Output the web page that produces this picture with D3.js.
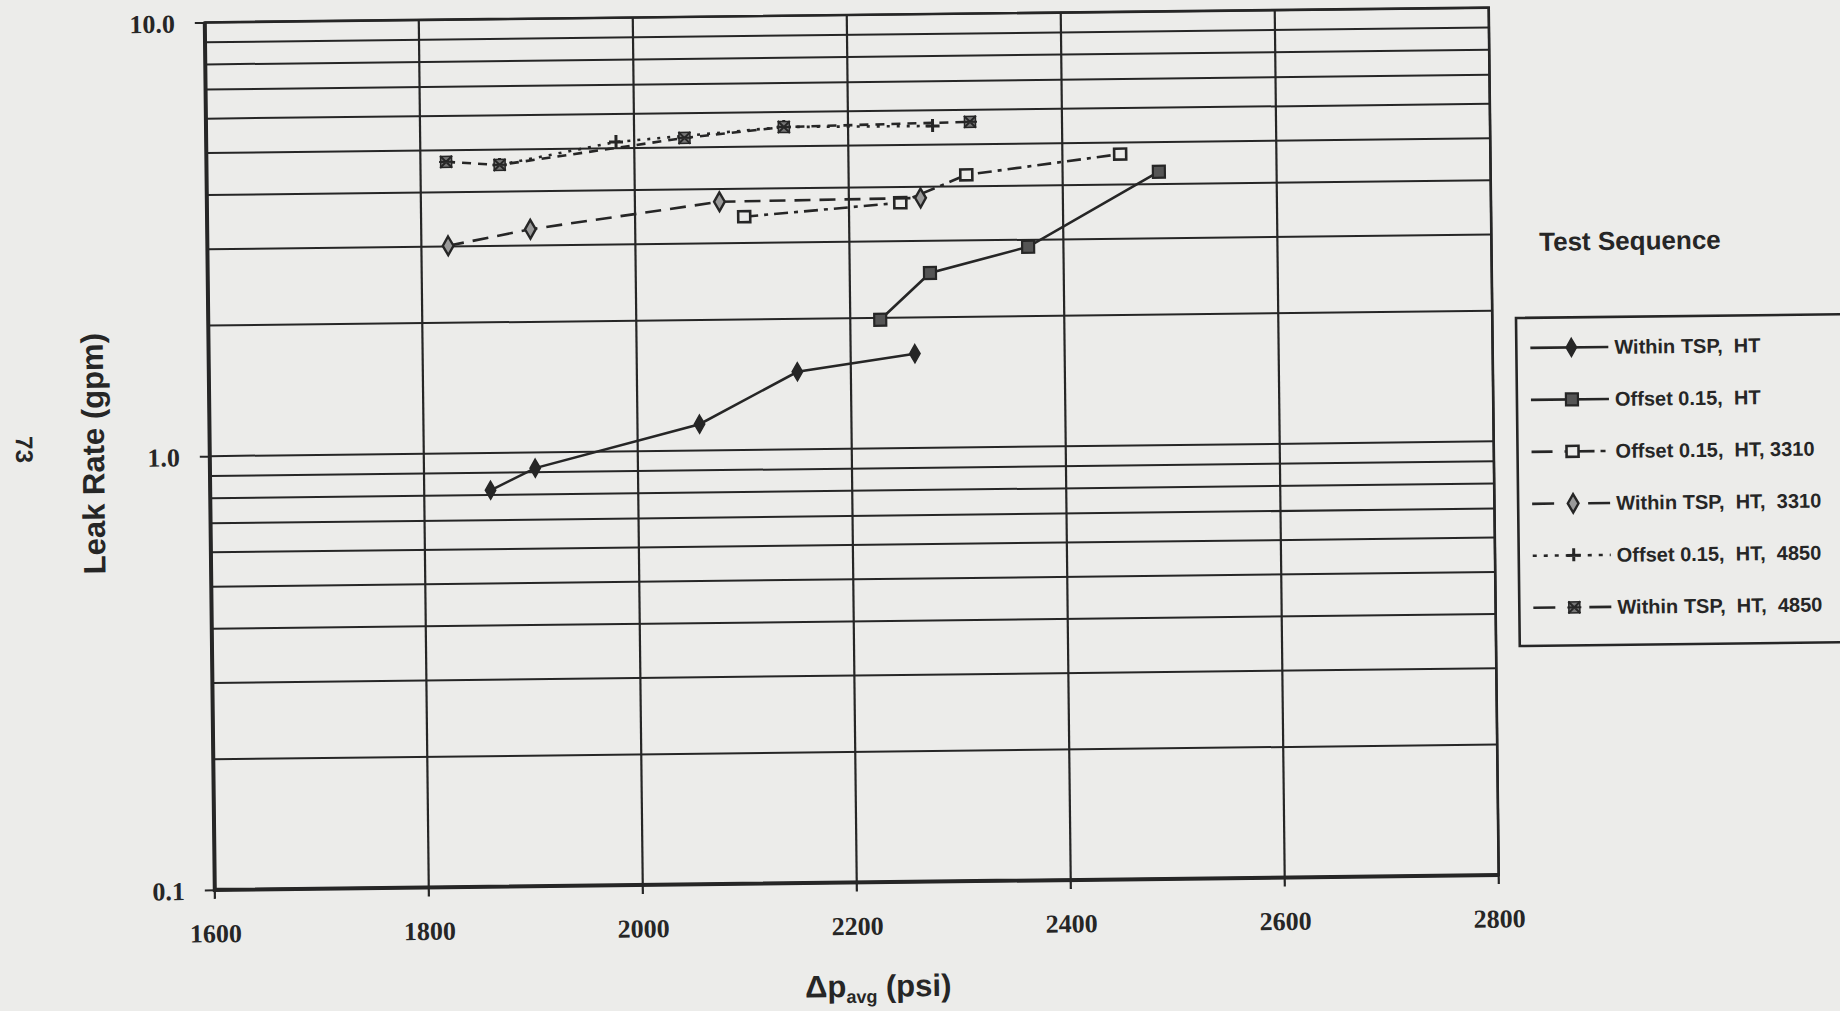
<!DOCTYPE html>
<html>
<head>
<meta charset="utf-8">
<script src="https://cdn.jsdelivr.net/npm/d3@7"></script>
<style>
    html, body { margin: 0; padding: 0; background: #ececea; }
    svg { display: block; }
</style>
</head>
<body>
<div id="chart"></div>
<script>
// axis ticks
const xTicks = [1600, 1800, 2000, 2200, 2400, 2600, 2800];
const yTickValues = [0.1, 1, 10];
const yTickLabels = ["0.1", "1.0", "10.0"];

// series values (dp avg in psi, leak rate in gpm)
const withinHT_x = [1862, 1904, 2058, 2150, 2260];
const withinHT_y = [0.82, 0.92, 1.15, 1.51, 1.65];

const offsetHT_x = [2228, 2275, 2367, 2490];
const offsetHT_y = [1.98, 2.53, 2.89, 4.27];

const offset3310_x = [2102, 2248, 2310, 2454];
const offset3310_y = [3.45, 3.68, 4.25, 4.70];

const within3310_x = [1825, 1902, 2079, 2267];
const within3310_y = [3.01, 3.27, 3.74, 3.77];

const offset4850_x = [1874, 1983, 2140, 2279];
const offset4850_y = [4.61, 5.17, 5.54, 5.52];

const within4850_x = [1824, 1874, 2047, 2140, 2314];
const within4850_y = [4.70, 4.61, 5.26, 5.54, 5.63];

const seriesNames = [
    "Within TSP,  HT",
    "Offset 0.15,  HT",
    "Offset 0.15,  HT, 3310",
    "Within TSP,  HT,  3310",
    "Offset 0.15,  HT,  4850",
    "Within TSP,  HT,  4850"
];

const width = 1840, height = 1011;
const bg = "#ececea";
const ink = "#262626";
const plot = {left: 209.75, right: 1493.75, top: 15, bottom: 882.5};
const tilt = -0.66; // the scanned page sits a little crooked

const series = [
    {name: seriesNames[0], xs: withinHT_x, ys: withinHT_y, dash: null, legendDash: null, marker: "diamondFilled"},
    {name: seriesNames[1], xs: offsetHT_x, ys: offsetHT_y, dash: null, legendDash: null, marker: "squareFilled"},
    {name: seriesNames[2], xs: offset3310_x, ys: offset3310_y, dash: "14,6,4,6", legendDash: "21,12,30,6,5,6,4", marker: "squareOpen"},
    {name: seriesNames[3], xs: within3310_x, ys: within3310_y, dash: "16,9", legendDash: "22,34,22", marker: "diamondOpen"},
    {name: seriesNames[4], xs: offset4850_x, ys: offset4850_y, dash: "3,7", legendDash: "4,7", marker: "plus"},
    {name: seriesNames[5], xs: within4850_x, ys: within4850_y, dash: "9,7", legendDash: "22,34,22", marker: "asterisk"}
];

const x = d3.scaleLinear().domain([1600, 2800]).range([plot.left, plot.right]);
const y = d3.scaleLog().domain([0.1, 10]).range([plot.bottom, plot.top]);

const svg = d3.select("#chart").append("svg")
    .attr("width", width)
    .attr("height", height);

svg.append("rect").attr("width", width).attr("height", height).attr("fill", bg);

const cx = (plot.left + plot.right) / 2, cy = (plot.top + plot.bottom) / 2;
const g = svg.append("g").attr("transform", `rotate(${tilt},${cx},${cy})`);

// horizontal grid, one line per minor log step
g.append("g")
    .attr("stroke", ink)
    .attr("stroke-width", 2)
    .selectAll("line")
    .data(y.ticks())
    .join("line")
    .attr("x1", plot.left).attr("x2", plot.right)
    .attr("y1", d => y(d)).attr("y2", d => y(d));

// vertical grid with the small ticks below the frame
g.append("g")
    .attr("stroke", ink)
    .attr("stroke-width", 2.2)
    .selectAll("line")
    .data(xTicks)
    .join("line")
    .attr("x1", d => x(d)).attr("x2", d => x(d))
    .attr("y1", plot.top).attr("y2", plot.bottom + 9);

// y axis
const yAxis = g.append("g")
    .attr("transform", `translate(${plot.left},0)`)
    .call(d3.axisLeft(y).tickValues(yTickValues)
        .tickFormat(d => yTickLabels[yTickValues.indexOf(d)])
        .tickSize(10).tickPadding(20));
yAxis.select(".domain").remove();
yAxis.selectAll("line").attr("stroke", ink).attr("stroke-width", 2);
yAxis.selectAll("text")
    .attr("fill", ink)
    .attr("dy", "0.36em")
    .style("font-family", "'Liberation Serif', serif")
    .style("font-weight", "bold")
    .style("font-size", "26px");

// x axis labels
const xAxis = g.append("g")
    .attr("transform", `translate(0,${plot.bottom})`)
    .call(d3.axisBottom(x).tickValues(xTicks).tickFormat(d3.format("d"))
        .tickSize(0).tickPadding(34));
xAxis.select(".domain").remove();
xAxis.selectAll("text")
    .attr("fill", ink)
    .style("font-family", "'Liberation Serif', serif")
    .style("font-weight", "bold")
    .style("font-size", "26px");

// frame
g.append("rect")
    .attr("x", plot.left).attr("y", plot.top)
    .attr("width", plot.right - plot.left).attr("height", plot.bottom - plot.top)
    .attr("fill", "none").attr("stroke", ink).attr("stroke-width", 2.6);
g.append("path")
    .attr("d", `M${plot.left},${plot.top}V${plot.bottom}H${plot.right}`)
    .attr("fill", "none").attr("stroke", ink).attr("stroke-width", 4);

// markers
function drawMarker(sel, type) {
    if (type === "diamondFilled") {
        sel.append("path").attr("d", d3.symbol(d3.symbolDiamond, 95)())
            .attr("fill", ink).attr("stroke", ink).attr("stroke-width", 1.5);
    } else if (type === "squareFilled") {
        sel.append("rect").attr("x", -6).attr("y", -6).attr("width", 12).attr("height", 12)
            .attr("fill", "#555").attr("stroke", ink).attr("stroke-width", 2.2);
    } else if (type === "squareOpen") {
        sel.append("rect").attr("x", -6).attr("y", -5.5).attr("width", 12).attr("height", 11)
            .attr("fill", bg).attr("stroke", ink).attr("stroke-width", 2.6);
    } else if (type === "diamondOpen") {
        sel.append("path").attr("d", d3.symbol(d3.symbolDiamond, 100)())
            .attr("fill", "#9a9a9a").attr("stroke", ink).attr("stroke-width", 2.4);
    } else if (type === "plus") {
        sel.append("path").attr("d", "M-7,0H7M0,-7V6")
            .attr("stroke", ink).attr("stroke-width", 3);
    } else if (type === "asterisk") {
        sel.append("rect").attr("x", -5.5).attr("y", -5.5).attr("width", 11).attr("height", 11)
            .attr("fill", "#777").attr("stroke", ink).attr("stroke-width", 1.5);
        sel.append("path").attr("d", "M-6,-6L6,6M6,-6L-6,6M-7,0H7")
            .attr("stroke", ink).attr("stroke-width", 2);
    }
}

const line = d3.line().x(d => x(d[0])).y(d => y(d[1]));

series.forEach(s => {
    const pts = s.xs.map((v, i) => [v, s.ys[i]]);
    g.append("path")
        .datum(pts)
        .attr("d", line)
        .attr("fill", "none")
        .attr("stroke", ink)
        .attr("stroke-width", 2.6)
        .attr("stroke-dasharray", s.dash);
    g.append("g")
        .selectAll("g")
        .data(pts)
        .join("g")
        .attr("transform", d => `translate(${x(d[0])},${y(d[1])})`)
        .each(function () { drawMarker(d3.select(this), s.marker); });
});

// axis titles
g.append("text")
    .attr("transform", "translate(104,445) rotate(-90)")
    .attr("text-anchor", "middle")
    .attr("fill", ink)
    .style("font-family", "'Liberation Sans', Arial, sans-serif")
    .style("font-weight", "bold")
    .style("font-size", "31px")
    .text("Leak Rate (gpm)");

g.append("text")
    .attr("transform", "translate(16,440) rotate(90)")
    .attr("text-anchor", "middle")
    .attr("fill", ink)
    .style("font-family", "'Liberation Sans', Arial, sans-serif")
    .style("font-weight", "bold")
    .style("font-size", "24px")
    .text("73");

const xTitle = g.append("text")
    .attr("x", 872).attr("y", 997)
    .attr("text-anchor", "middle")
    .attr("fill", ink)
    .style("font-family", "'Liberation Sans', Arial, sans-serif")
    .style("font-weight", "bold")
    .style("font-size", "31px");
xTitle.append("tspan").text("\u0394p");
xTitle.append("tspan").attr("dy", 6).style("font-size", "18px").text("avg");
xTitle.append("tspan").attr("dy", -6).text(" (psi)");

// legend
const legend = svg.append("g").attr("transform", `translate(1516,318) rotate(${tilt})`);

legend.append("text")
    .attr("x", 24).attr("y", -67)
    .attr("fill", ink)
    .style("font-family", "'Liberation Sans', Arial, sans-serif")
    .style("font-weight", "bold")
    .style("font-size", "26px")
    .text("Test Sequence");

legend.append("rect")
    .attr("x", 0).attr("y", 0).attr("width", 345).attr("height", 328)
    .attr("fill", "none").attr("stroke", ink).attr("stroke-width", 2.6);

const item = legend.selectAll(".item")
    .data(series)
    .join("g")
    .attr("class", "item")
    .attr("transform", (d, i) => `translate(0,${30 + i * 52})`);

item.append("line")
    .attr("x1", 14).attr("x2", 92)
    .attr("stroke", ink).attr("stroke-width", 2.6)
    .attr("stroke-dasharray", d => d.legendDash);

item.append("g")
    .attr("transform", "translate(55,0)")
    .each(function (d) { drawMarker(d3.select(this), d.marker); });

item.append("text")
    .attr("x", 98).attr("y", 7)
    .attr("fill", ink)
    .style("white-space", "pre")
    .style("font-family", "'Liberation Sans', Arial, sans-serif")
    .style("font-weight", "bold")
    .style("font-size", "20px")
    .text(d => d.name);
</script>
</body>
</html>
